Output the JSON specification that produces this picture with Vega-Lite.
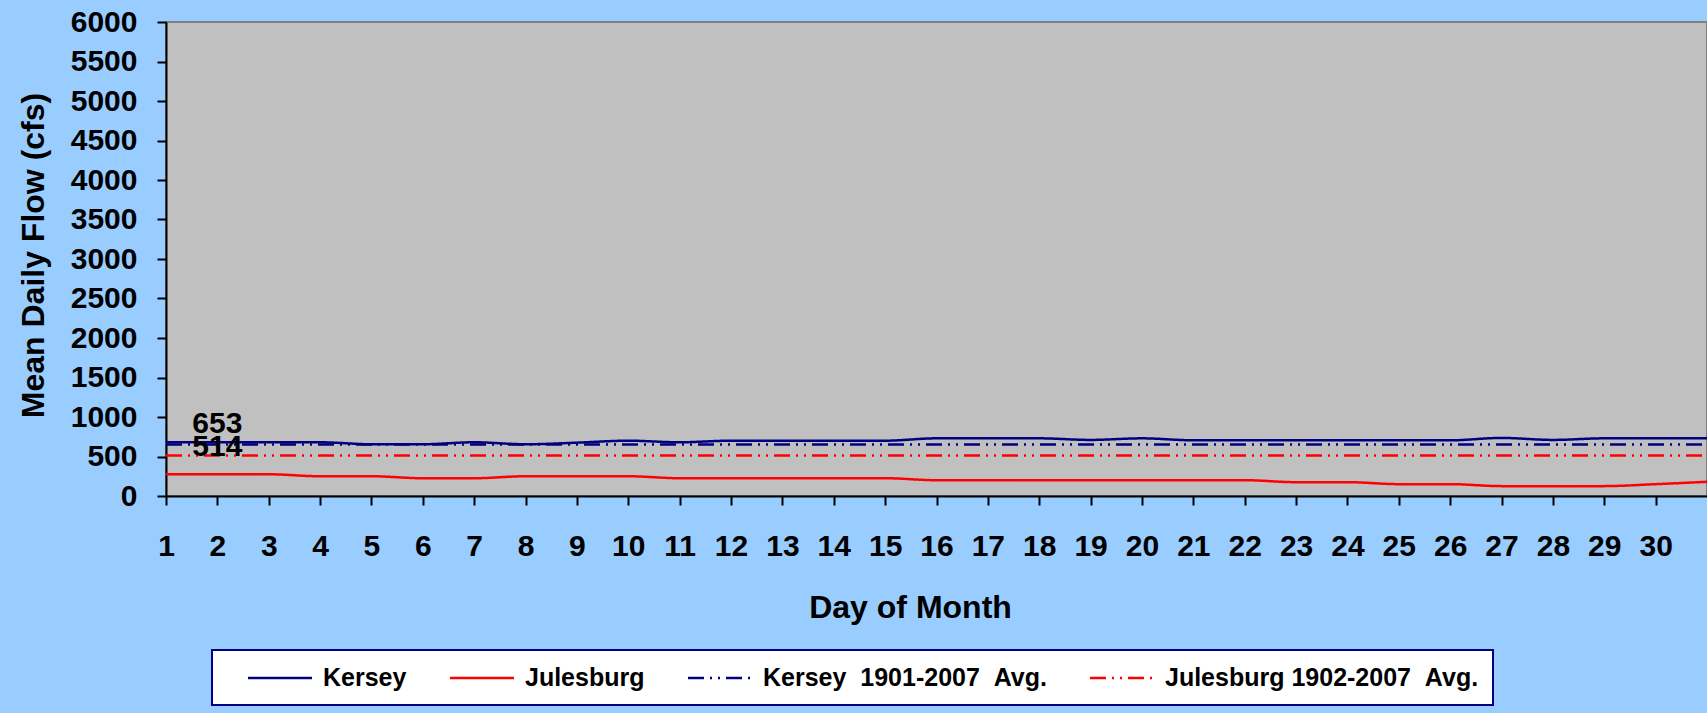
{
  "$schema": "https://vega.github.io/schema/vega-lite/v6.json",
  "width": 1541,
  "height": 474,
  "autosize": {"type": "none"},
  "padding": {"left": 166, "top": 22, "right": 0, "bottom": 217},
  "background": "#99CCFF",
  "config": {
    "font": "Liberation Sans",
    "view": {"fill": "#C0C0C0", "stroke": "#808080", "strokeWidth": 2},
    "axis": {
      "grid": false,
      "domainColor": "#000000",
      "domainWidth": 2,
      "tickColor": "#000000",
      "tickWidth": 2,
      "tickSize": 9,
      "labelFont": "Liberation Sans",
      "labelFontSize": 30,
      "labelFontWeight": "bold",
      "labelColor": "#000000",
      "labelFlush": false,
      "labelOverlap": false,
      "titleFont": "Liberation Sans",
      "titleFontSize": 32,
      "titleFontWeight": "bold",
      "titleColor": "#000000"
    },
    "legend": {"strokeWidth": 2}
  },
  "datasets": {
    "flows": [
      {"day": 1, "value": 680, "series": "Kersey"},
      {"day": 2, "value": 680, "series": "Kersey"},
      {"day": 3, "value": 680, "series": "Kersey"},
      {"day": 4, "value": 680, "series": "Kersey"},
      {"day": 5, "value": 655, "series": "Kersey"},
      {"day": 6, "value": 655, "series": "Kersey"},
      {"day": 7, "value": 680, "series": "Kersey"},
      {"day": 8, "value": 655, "series": "Kersey"},
      {"day": 9, "value": 675, "series": "Kersey"},
      {"day": 10, "value": 700, "series": "Kersey"},
      {"day": 11, "value": 680, "series": "Kersey"},
      {"day": 12, "value": 700, "series": "Kersey"},
      {"day": 13, "value": 700, "series": "Kersey"},
      {"day": 14, "value": 700, "series": "Kersey"},
      {"day": 15, "value": 700, "series": "Kersey"},
      {"day": 16, "value": 730, "series": "Kersey"},
      {"day": 17, "value": 730, "series": "Kersey"},
      {"day": 18, "value": 730, "series": "Kersey"},
      {"day": 19, "value": 710, "series": "Kersey"},
      {"day": 20, "value": 730, "series": "Kersey"},
      {"day": 21, "value": 705, "series": "Kersey"},
      {"day": 22, "value": 705, "series": "Kersey"},
      {"day": 23, "value": 705, "series": "Kersey"},
      {"day": 24, "value": 705, "series": "Kersey"},
      {"day": 25, "value": 705, "series": "Kersey"},
      {"day": 26, "value": 705, "series": "Kersey"},
      {"day": 27, "value": 735, "series": "Kersey"},
      {"day": 28, "value": 710, "series": "Kersey"},
      {"day": 29, "value": 730, "series": "Kersey"},
      {"day": 30, "value": 730, "series": "Kersey"},
      {"day": 31, "value": 730, "series": "Kersey"},
      {"day": 1, "value": 275, "series": "Julesburg"},
      {"day": 2, "value": 275, "series": "Julesburg"},
      {"day": 3, "value": 275, "series": "Julesburg"},
      {"day": 4, "value": 250, "series": "Julesburg"},
      {"day": 5, "value": 250, "series": "Julesburg"},
      {"day": 6, "value": 225, "series": "Julesburg"},
      {"day": 7, "value": 225, "series": "Julesburg"},
      {"day": 8, "value": 250, "series": "Julesburg"},
      {"day": 9, "value": 250, "series": "Julesburg"},
      {"day": 10, "value": 250, "series": "Julesburg"},
      {"day": 11, "value": 225, "series": "Julesburg"},
      {"day": 12, "value": 225, "series": "Julesburg"},
      {"day": 13, "value": 225, "series": "Julesburg"},
      {"day": 14, "value": 225, "series": "Julesburg"},
      {"day": 15, "value": 225, "series": "Julesburg"},
      {"day": 16, "value": 200, "series": "Julesburg"},
      {"day": 17, "value": 200, "series": "Julesburg"},
      {"day": 18, "value": 200, "series": "Julesburg"},
      {"day": 19, "value": 200, "series": "Julesburg"},
      {"day": 20, "value": 200, "series": "Julesburg"},
      {"day": 21, "value": 200, "series": "Julesburg"},
      {"day": 22, "value": 200, "series": "Julesburg"},
      {"day": 23, "value": 175, "series": "Julesburg"},
      {"day": 24, "value": 175, "series": "Julesburg"},
      {"day": 25, "value": 150, "series": "Julesburg"},
      {"day": 26, "value": 150, "series": "Julesburg"},
      {"day": 27, "value": 125, "series": "Julesburg"},
      {"day": 28, "value": 125, "series": "Julesburg"},
      {"day": 29, "value": 125, "series": "Julesburg"},
      {"day": 30, "value": 150, "series": "Julesburg"},
      {"day": 31, "value": 180, "series": "Julesburg"},
      {"day": 1, "value": 653, "series": "Kersey\u00a0\u00a01901-2007\u00a0\u00a0Avg."},
      {"day": 31, "value": 653, "series": "Kersey\u00a0\u00a01901-2007\u00a0\u00a0Avg."},
      {"day": 1, "value": 514, "series": "Julesburg 1902-2007\u00a0\u00a0Avg."},
      {"day": 31, "value": 514, "series": "Julesburg 1902-2007\u00a0\u00a0Avg."}
    ],
    "avgLabels": [
      {"day": 2, "value": 653, "label": "653"},
      {"day": 2, "value": 514, "label": "514"}
    ]
  },
  "encoding": {
    "x": {
      "field": "day",
      "type": "quantitative",
      "scale": {"domain": [1, 31], "nice": false, "zero": false},
      "axis": {
        "title": "Day of Month",
        "values": [1, 2, 3, 4, 5, 6, 7, 8, 9, 10, 11, 12, 13, 14, 15, 16, 17, 18, 19, 20, 21, 22, 23, 24, 25, 26, 27, 28, 29, 30],
        "format": "d",
        "labelPadding": 26,
        "labelBaseline": "top",
        "titleX": 744,
        "titleY": 121,
        "titleAlign": "center",
        "titleBaseline": "alphabetic"
      }
    },
    "y": {
      "field": "value",
      "type": "quantitative",
      "scale": {"domain": [0, 6000], "nice": false},
      "axis": {
        "title": "Mean Daily Flow (cfs)",
        "values": [0, 500, 1000, 1500, 2000, 2500, 3000, 3500, 4000, 4500, 5000, 5500, 6000],
        "format": "d",
        "labelPadding": 20,
        "titleX": -123,
        "titleY": 233,
        "titleAngle": -90,
        "titleAlign": "center",
        "titleBaseline": "alphabetic"
      }
    }
  },
  "layer": [
    {
      "data": {"name": "flows"},
      "mark": {"type": "line", "interpolate": "monotone", "strokeWidth": 2.5},
      "encoding": {
        "color": {
          "field": "series",
          "type": "nominal",
          "scale": {
            "domain": ["Kersey", "Julesburg", "Kersey\u00a0\u00a01901-2007\u00a0\u00a0Avg.", "Julesburg 1902-2007\u00a0\u00a0Avg."],
            "range": ["#000080", "#FF0000", "#000080", "#FF0000"]
          },
          "legend": {
            "orient": "none",
            "legendX": 46,
            "legendY": 628,
            "direction": "horizontal",
            "title": null,
            "fillColor": "#FFFFFF",
            "strokeColor": "#000080",
            "padding": 14,
            "symbolType": "M-2.56,0H2.56",
            "symbolSize": 625,
            "symbolStrokeWidth": 2.5,
            "symbolOffset": 40,
            "labelFont": "Liberation Sans",
            "labelFontSize": 25,
            "labelFontWeight": "bold",
            "labelColor": "#000000",
            "labelOffset": 29,
            "labelLimit": 600,
            "columnPadding": 21
          }
        },
        "strokeDash": {
          "field": "series",
          "type": "nominal",
          "scale": {
            "domain": ["Kersey", "Julesburg", "Kersey\u00a0\u00a01901-2007\u00a0\u00a0Avg.", "Julesburg 1902-2007\u00a0\u00a0Avg."],
            "range": [[1, 0], [1, 0], [16, 6, 2, 6, 2, 6], [16, 6, 2, 6, 2, 6]]
          }
        }
      }
    },
    {
      "data": {"name": "avgLabels"},
      "transform": [{"filter": "datum.label == '653'"}],
      "mark": {"type": "text", "font": "Liberation Sans", "fontSize": 30, "fontWeight": "bold", "color": "#000000", "align": "center", "baseline": "alphabetic", "dy": -11},
      "encoding": {"text": {"field": "label"}}
    },
    {
      "data": {"name": "avgLabels"},
      "transform": [{"filter": "datum.label == '514'"}],
      "mark": {"type": "text", "font": "Liberation Sans", "fontSize": 30, "fontWeight": "bold", "color": "#000000", "align": "center", "baseline": "alphabetic", "dy": 1},
      "encoding": {"text": {"field": "label"}}
    }
  ]
}
